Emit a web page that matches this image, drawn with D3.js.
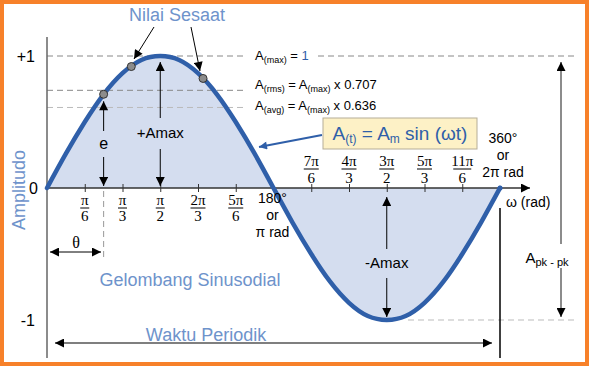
<!DOCTYPE html>
<html>
<head>
<meta charset="utf-8">
<script src="https://cdn.jsdelivr.net/npm/d3@7"></script>
<style>
  html, body { margin: 0; padding: 0; background: #fff; }
  svg { display: block; }
  text { font-family: "Liberation Sans", Arial, sans-serif; }
</style>
</head>
<body>
<div id="chart"></div>
<script>
// amplitude every 15 degrees (0..360)
var waveDeg = [0, 15, 30, 45, 60, 75, 90, 105, 120, 135, 150, 165, 180,
               195, 210, 225, 240, 255, 270, 285, 300, 315, 330, 345, 360];
var waveAmp = [0, 0.26, 0.5, 0.71, 0.87, 0.97, 1, 0.97, 0.87, 0.71, 0.5, 0.26, 0,
               -0.26, -0.5, -0.71, -0.87, -0.97, -1, -0.97, -0.87, -0.71, -0.5, -0.26, 0];

// tick positions in multiples of pi, with fraction labels
var tickVals = [1/6, 1/3, 1/2, 2/3, 5/6, 7/6, 4/3, 3/2, 5/3, 11/6];
var tickNums = ["π", "π", "π", "2π", "5π", "7π", "4π", "3π", "5π", "11π"];
var tickDens = ["6", "3", "2", "3", "6", "6", "3", "2", "3", "6"];

// the instantaneous values marked with dots (degrees, amplitude)
var dotDeg = [45, 67, 124];
var dotAmp = [0.71, 0.92, 0.83];

// reference levels drawn as dashed lines
var levelVals = [1, 0.74, 0.61];
var yTickVals = [1, 0, -1];
var yTickLabels = ["+1", "0", "-1"];

var W = 590, H = 367;
var blue = "#2f5fa9", lightBlue = "#6e93cb";

var svg = d3.select("#chart").append("svg")
  .attr("width", W).attr("height", H);

var defs = svg.append("defs");
function marker(id, color, w, h) {
  defs.append("marker")
    .attr("id", id)
    .attr("viewBox", "0 0 10 10")
    .attr("refX", 10).attr("refY", 5)
    .attr("markerUnits", "userSpaceOnUse")
    .attr("markerWidth", w).attr("markerHeight", h)
    .attr("orient", "auto-start-reverse")
    .append("path")
      .attr("d", "M0,0 L10,5 L0,10 z")
      .attr("fill", color);
}
marker("arr", "#000", 12, 9);
marker("arrBig", "#000", 15, 9);
marker("arrBlue", blue, 12, 8);

var x = d3.scaleLinear().domain([0, 2 * Math.PI]).range([47, 500]);
var y = d3.scaleLinear().domain([-1, 1]).range([320, 56]);
var rad = function(d) { return d * Math.PI / 180; };

// orange frame
svg.append("rect")
  .attr("x", 2).attr("y", 2).attr("width", 585).attr("height", 362)
  .attr("fill", "none").attr("stroke", "#f7812a").attr("stroke-width", 4);

// sine area and curve
var pts = waveDeg.map(function(d, i) { return [rad(d), waveAmp[i]]; });
svg.append("path")
  .datum(pts)
  .attr("fill", "#d4ddef")
  .attr("d", d3.area().curve(d3.curveNatural)
    .x(function(d) { return x(d[0]); })
    .y0(y(0))
    .y1(function(d) { return y(d[1]); }));

// dashed level lines
var dashes = [
  {v: levelVals[0], x1: x(0), x2: 246, c: "#888"},
  {v: levelVals[0], x1: 318, x2: 577, c: "#888"},
  {v: levelVals[1], x1: x(0), x2: 246, c: "#888"},
  {v: levelVals[2], x1: x(0), x2: 246, c: "#bbb"},
  {v: -levelVals[0], x1: 408, x2: 577, c: "#bbb"}
];
svg.selectAll(".lvl").data(dashes).enter().append("line")
  .attr("class", "lvl")
  .attr("x1", function(d) { return d.x1; })
  .attr("x2", function(d) { return d.x2; })
  .attr("y1", function(d) { return y(d.v); })
  .attr("y2", function(d) { return y(d.v); })
  .attr("stroke", function(d) { return d.c; })
  .attr("stroke-width", 1)
  .attr("stroke-dasharray", "6,4");

// y axis
svg.append("line")
  .attr("x1", x(0)).attr("x2", x(0)).attr("y1", 37).attr("y2", 358)
  .attr("stroke", "#666").attr("stroke-width", 1.5);

// x axis with ticks
var xAxis = d3.axisBottom(x)
  .tickValues(tickVals.map(function(v) { return v * Math.PI; }))
  .tickFormat("")
  .tickSizeInner(4).tickSizeOuter(0);
var gx = svg.append("g")
  .attr("transform", "translate(0," + y(0) + ")")
  .call(xAxis);
gx.select(".domain").remove();
gx.selectAll(".tick line").attr("y1", -4).attr("stroke", "#333");

svg.append("line")
  .attr("x1", x(0)).attr("x2", 530).attr("y1", y(0)).attr("y2", y(0))
  .attr("stroke", "#333").attr("stroke-width", 1.5)
  .attr("marker-end", "url(#arrBig)");

// curve stroke on top of the axis
svg.append("path")
  .datum(pts)
  .attr("fill", "none")
  .attr("stroke", blue)
  .attr("stroke-width", 4.5)
  .attr("stroke-linecap", "round")
  .attr("d", d3.line().curve(d3.curveNatural)
    .x(function(d) { return x(d[0]); })
    .y(function(d) { return y(d[1]); }));

svg.append("circle")
  .attr("cx", x(2 * Math.PI)).attr("cy", y(0)).attr("r", 2.5).attr("fill", blue);

// fraction tick labels
tickVals.forEach(function(v, i) {
  var cx = x(v * Math.PI);
  var upper = v > 1;
  var nb = upper ? 166 : 205, db = upper ? 183 : 221, bar = upper ? 169 : 208;
  var g = svg.append("g").style("font-family", "'Liberation Serif', 'Times New Roman', serif");
  g.append("text").attr("x", cx).attr("y", nb).attr("text-anchor", "middle")
    .style("font-size", "15px").style("font-family", "'Liberation Serif', serif").text(tickNums[i]);
  g.append("text").attr("x", cx).attr("y", db).attr("text-anchor", "middle")
    .style("font-size", "15px").style("font-family", "'Liberation Serif', serif").text(tickDens[i]);
  var bw = tickNums[i].length > 2 ? 18 : (tickNums[i].length > 1 ? 15 : 9);
  g.append("line").attr("x1", cx - bw / 2).attr("x2", cx + bw / 2)
    .attr("y1", bar).attr("y2", bar).attr("stroke", "#000").attr("stroke-width", 1);
});

// 180 and 360 labels
function stack(cx, yb, lines) {
  lines.forEach(function(t, i) {
    svg.append("text").attr("x", cx).attr("y", yb + i * 17)
      .attr("text-anchor", "middle").style("font-size", "14px").text(t);
  });
}
stack(x(Math.PI) - 1, 203, ["180°", "or", "π rad"]);
stack(x(2 * Math.PI) + 3, 143, ["360°", "or", "2π rad"]);

svg.append("text").attr("x", 506).attr("y", 207)
  .style("font-size", "14px").text("ω (rad)");

// y labels
yTickVals.forEach(function(v, i) {
  svg.append("text").attr("x", v === 0 ? 38 : 35).attr("y", y(v) + 6)
    .attr("text-anchor", "end").style("font-size", "16px").text(yTickLabels[i]);
});

svg.append("text")
  .attr("transform", "translate(25,190) rotate(-90)")
  .attr("text-anchor", "middle")
  .style("font-size", "18px").attr("fill", lightBlue)
  .text("Amplitudo");

// level labels on the right
function levelLabel(yb, sub, rest) {
  var t = svg.append("text").attr("x", 255).attr("y", yb).style("font-size", "13px");
  t.append("tspan").text("A");
  t.append("tspan").attr("dy", 3).style("font-size", "9px").text(sub);
  t.append("tspan").attr("dy", -3).text(" = ");
  rest(t);
}
levelLabel(60, "(max)", function(t) {
  t.append("tspan").attr("fill", blue).text("1");
});
levelLabel(89, "(rms)", function(t) {
  t.append("tspan").text("A");
  t.append("tspan").attr("dy", 3).style("font-size", "9px").text("(max)");
  t.append("tspan").attr("dy", -3).text(" x 0.707");
});
levelLabel(110, "(avg)", function(t) {
  t.append("tspan").text("A");
  t.append("tspan").attr("dy", 3).style("font-size", "9px").text("(max)");
  t.append("tspan").attr("dy", -3).text(" x 0.636");
});

// formula box and its arrow
svg.append("line")
  .attr("x1", 322).attr("y1", 135).attr("x2", 259).attr("y2", 147)
  .attr("stroke", blue).attr("stroke-width", 2)
  .attr("marker-end", "url(#arrBlue)");
svg.append("rect")
  .attr("x", 323).attr("y", 118).attr("width", 154).attr("height", 31)
  .attr("fill", "#fdf1c6").attr("stroke", "#b5ad98").attr("stroke-width", 1);
var ft = svg.append("text").attr("x", 400).attr("y", 140)
  .attr("text-anchor", "middle").attr("fill", blue).style("font-size", "19px");
ft.append("tspan").text("A");
ft.append("tspan").attr("dy", 3).style("font-size", "12px").text("(t)");
ft.append("tspan").attr("dy", -3).text(" = A");
ft.append("tspan").attr("dy", 3).style("font-size", "12px").text("m");
ft.append("tspan").attr("dy", -3).text(" sin (ωt)");

// instantaneous value dots
svg.selectAll(".dot").data(dotDeg).enter().append("circle")
  .attr("class", "dot")
  .attr("cx", function(d) { return x(rad(d)); })
  .attr("cy", function(d, i) { return y(dotAmp[i]); })
  .attr("r", 4)
  .attr("fill", "#8c8c8c").attr("stroke", "#333").attr("stroke-width", 1);

svg.append("text").attr("x", 177).attr("y", 21).attr("text-anchor", "middle")
  .style("font-size", "18px").attr("fill", lightBlue).text("Nilai Sesaat");
svg.append("line").attr("x1", 154).attr("y1", 27).attr("x2", 134).attr("y2", 59)
  .attr("stroke", "#000").attr("stroke-width", 1).attr("marker-end", "url(#arr)");
svg.append("line").attr("x1", 191).attr("y1", 27).attr("x2", 200).attr("y2", 71)
  .attr("stroke", "#000").attr("stroke-width", 1).attr("marker-end", "url(#arr)");

// double arrow split around a label
function splitArrow(cx, y1, y2, g1, g2, stroke, sw) {
  svg.append("line").attr("x1", cx).attr("x2", cx).attr("y1", g1).attr("y2", y1)
    .attr("stroke", stroke || "#000").attr("stroke-width", sw || 1).attr("marker-end", "url(#arr)");
  svg.append("line").attr("x1", cx).attr("x2", cx).attr("y1", g2).attr("y2", y2)
    .attr("stroke", stroke || "#000").attr("stroke-width", sw || 1).attr("marker-end", "url(#arr)");
}
function midLabel(cx, yb, t, size) {
  svg.append("text").attr("x", cx).attr("y", yb).attr("text-anchor", "middle")
    .style("font-size", size || "15px").text(t);
}

splitArrow(x(Math.PI / 2), y(1) + 6, y(0) - 2, 118, 149);
midLabel(x(Math.PI / 2), 138, "+Amax");

splitArrow(x(rad(45)), y(dotAmp[0]) + 7, y(0) - 2, 131, 157);
midLabel(x(rad(45)), 149, "e", "16px");

splitArrow(x(3 * Math.PI / 2), y(0) + 9, y(-1) - 3, 249, 278);
midLabel(x(3 * Math.PI / 2), 268, "-Amax");

splitArrow(561, y(1) + 6, y(-1) - 3, 244, 268, "#666", 1.5);
var pk = svg.append("text").attr("x", 547).attr("y", 263).attr("text-anchor", "middle")
  .style("font-size", "15px");
pk.append("tspan").text("A");
pk.append("tspan").attr("dy", 3).style("font-size", "11px").text("pk - pk");

// theta
svg.append("line").attr("x1", x(rad(45))).attr("x2", x(rad(45)))
  .attr("y1", 191).attr("y2", 257)
  .attr("stroke", "#999").attr("stroke-dasharray", "6,4");
svg.append("line").attr("x1", 75).attr("x2", 50).attr("y1", 252).attr("y2", 252)
  .attr("stroke", "#000").attr("marker-end", "url(#arr)");
svg.append("line").attr("x1", 75).attr("x2", 101).attr("y1", 252).attr("y2", 252)
  .attr("stroke", "#000").attr("marker-end", "url(#arr)");
svg.append("text").attr("x", 76).attr("y", 248).attr("text-anchor", "middle")
  .style("font-size", "16px").style("font-family", "'Liberation Serif', serif").text("θ");

svg.append("text").attr("x", 190).attr("y", 286).attr("text-anchor", "middle")
  .style("font-size", "18px").attr("fill", lightBlue).text("Gelombang Sinusodial");

// period
svg.append("line").attr("x1", x(2 * Math.PI)).attr("x2", x(2 * Math.PI))
  .attr("y1", 208).attr("y2", 358).attr("stroke", "#000").attr("stroke-width", 1.5);
svg.append("line").attr("x1", 270).attr("x2", 55).attr("y1", 343).attr("y2", 343)
  .attr("stroke", "#000").attr("stroke-width", 1.2).attr("marker-end", "url(#arrBig)");
svg.append("line").attr("x1", 270).attr("x2", 492).attr("y1", 343).attr("y2", 343)
  .attr("stroke", "#000").attr("stroke-width", 1.2).attr("marker-end", "url(#arrBig)");
svg.append("text").attr("x", 206).attr("y", 341).attr("text-anchor", "middle")
  .style("font-size", "18px").attr("fill", lightBlue).text("Waktu Periodik");
</script>
</body>
</html>
